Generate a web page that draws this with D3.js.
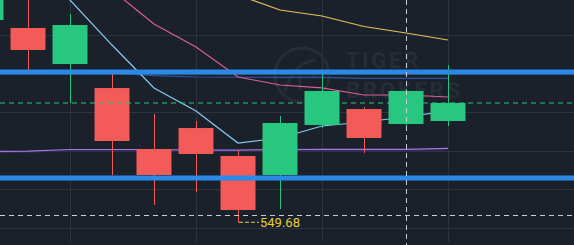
<!DOCTYPE html>
<html>
<head>
<meta charset="utf-8">
<script src="https://cdn.jsdelivr.net/npm/d3@7"></script>
<style>
  html, body { margin: 0; padding: 0; background: #1b212a; }
  svg { display: block; }
</style>
</head>
<body>
<svg id="chart"></svg>
<script>
// Candles (daily)
const days  = ['09-05', '09-06', '09-09', '09-10', '09-11', '09-12', '09-13', '09-16', '09-17', '09-18', '09-19', '09-20'];
const open  = [575.94, 574.91, 570.24, 567.13, 559.23, 561.95, 558.33, 555.87, 562.34, 564.41, 562.47, 562.86];
const high  = [580.50, 579.83, 576.72, 568.95, 563.77, 562.86, 558.97, 563.51, 569.21, 564.67, 567.01, 570.11];
const low   = [575.30, 569.47, 565.19, 555.87, 551.98, 553.66, 549.68, 551.46, 561.95, 558.72, 562.21, 562.21];
const close = [579.18, 572.06, 575.30, 560.27, 555.87, 558.59, 551.33, 562.60, 566.75, 560.66, 566.75, 565.19];

// Moving averages
const ma5  = [588.00, 583.70, 578.53, 572.70, 567.13, 564.15, 560.01, 560.66, 562.21, 562.73, 563.38, 564.16];
const ma10 = [588.00, 586.00, 584.10, 579.83, 575.42, 572.45, 568.56, 567.52, 567.14, 566.23, 566.23, 565.97];
const ma20 = [590.00, 588.00, 586.00, 584.00, 582.50, 580.74, 579.18, 577.24, 576.46, 575.10, 574.26, 573.35];
const ma30 = [569.40, 569.35, 569.21, 569.08, 568.75, 568.56, 568.53, 568.52, 568.52, 568.39, 568.39, 568.39];
const ma60 = [558.91, 558.97, 559.17, 559.17, 559.17, 559.10, 559.10, 559.17, 559.19, 559.19, 559.19, 559.32];

// Drawn support / resistance levels
const levels = [569.21, 555.48];

// Grid ticks
const priceTicks = [549, 554, 559, 564, 569, 574];
const dayTicks = [days[2], days[5], days[8], days[11]];

// Crosshair
const crossDay = days[10];
const crossPrice = 550.68;

const width = 574, height = 245;
const up = '#28c77f', down = '#f25b58';

const x = d3.scalePoint().domain(days).range([-14, 448]);
const y = d3.scaleLinear().domain([549, 574]).range([228, 35]);
const candleW = 35;

const svg = d3.select('#chart')
  .attr('width', width)
  .attr('height', height);

svg.append('rect')
  .attr('width', width)
  .attr('height', height)
  .attr('fill', '#1b212a');

// Grid
svg.append('g')
  .attr('stroke', '#2c333d')
  .attr('stroke-width', 1)
  .call(g => g.selectAll('.h').data(priceTicks).join('line')
    .attr('x1', 0).attr('x2', width)
    .attr('y1', d => Math.round(y(d)) + 0.5).attr('y2', d => Math.round(y(d)) + 0.5))
  .call(g => g.selectAll('.v').data(dayTicks).join('line')
    .attr('x1', d => Math.round(x(d)) + 0.5).attr('x2', d => Math.round(x(d)) + 0.5)
    .attr('y1', 0).attr('y2', 242));

// Watermark
const wm = svg.append('g').attr('fill', 'none').attr('stroke', '#262d37');
wm.append('circle').attr('cx', 302).attr('cy', 75).attr('r', 27).attr('stroke-width', 3);
wm.append('path').attr('stroke-width', 3)
  .attr('d', 'M285,92 C292,70 300,62 316,60 M300,90 L300,74 Q310,70 316,78');
svg.append('g')
  .attr('fill', '#262d37')
  .attr('font-family', 'Roboto, sans-serif')
  .attr('font-weight', 700)
  .attr('font-size', 22)
  .call(g => g.append('text').attr('x', 346).attr('y', 68).attr('textLength', 72).text('TIGER'))
  .call(g => g.append('text').attr('x', 346).attr('y', 98).attr('textLength', 114).text('BROKERS'));

// Moving average lines
const lineFor = vals => d3.line()
  .x((d, i) => x(days[i]))
  .y(d => y(d))(vals);

// dark shadow under the long average
svg.append('path')
  .attr('fill', 'none')
  .attr('stroke', '#35285a')
  .attr('stroke-width', 1.2)
  .attr('transform', 'translate(0,1.2)')
  .attr('d', lineFor(ma60));

const maStyles = [
  [ma60, '#a47ae0'],
  [ma30, '#2c55a8'],
  [ma20, '#e2c25a'],
  [ma10, '#d95f98'],
  [ma5, '#86ccf0'],
];
svg.append('g')
  .attr('fill', 'none')
  .attr('stroke-width', 1.2)
  .selectAll('path')
  .data(maStyles)
  .join('path')
  .attr('stroke', d => d[1])
  .attr('d', d => lineFor(d[0]));

// Candles
const I = d3.range(days.length);
const candles = svg.append('g')
  .selectAll('g')
  .data(I)
  .join('g')
  .attr('fill', i => close[i] >= open[i] ? up : down)
  .attr('stroke', i => close[i] >= open[i] ? up : down);

candles.append('line')
  .attr('x1', i => Math.round(x(days[i])) + 0.5)
  .attr('x2', i => Math.round(x(days[i])) + 0.5)
  .attr('y1', i => y(high[i]))
  .attr('y2', i => y(low[i]))
  .attr('stroke-width', 1);

candles.append('rect')
  .attr('stroke', 'none')
  .attr('x', i => x(days[i]) - candleW / 2)
  .attr('width', candleW)
  .attr('y', i => y(Math.max(open[i], close[i])))
  .attr('height', i => Math.max(1, Math.abs(y(open[i]) - y(close[i]))));

// Last price line
const last = days.length - 1;
svg.append('line')
  .attr('x1', 0).attr('x2', width)
  .attr('y1', y(close[last])).attr('y2', y(close[last]))
  .attr('stroke', close[last] >= open[last] ? up : down)
  .attr('stroke-dasharray', '5,4');

// Support / resistance levels
svg.append('g')
  .selectAll('line')
  .data(levels)
  .join('line')
  .attr('x1', 0).attr('x2', width)
  .attr('y1', d => y(d)).attr('y2', d => y(d))
  .attr('stroke', '#2b8ae8')
  .attr('stroke-width', 5);

// Crosshair
svg.append('g')
  .attr('stroke', '#c9cdd3')
  .attr('stroke-dasharray', '5,4')
  .call(g => g.append('line')
    .attr('x1', 0).attr('x2', width)
    .attr('y1', Math.round(y(crossPrice)) + 0.5).attr('y2', Math.round(y(crossPrice)) + 0.5))
  .call(g => g.append('line')
    .attr('x1', Math.round(x(crossDay)) + 0.5).attr('x2', Math.round(x(crossDay)) + 0.5)
    .attr('y1', 0).attr('y2', height));

// Lowest price marker
const iLow = d3.minIndex(low);
const lx = x(days[iLow]), ly = y(low[iLow]);
svg.append('line')
  .attr('x1', lx + 1).attr('x2', lx + 21)
  .attr('y1', ly - 0.5).attr('y2', ly - 0.5)
  .attr('stroke', '#e4cf3c')
  .attr('stroke-dasharray', '4,2');
svg.append('text')
  .attr('x', lx + 22)
  .attr('y', ly + 4)
  .attr('fill', '#e4cf3c')
  .attr('font-family', 'Roboto, sans-serif')
  .attr('font-size', 13)
  .text(low[iLow].toFixed(2));
</script>
</body>
</html>
